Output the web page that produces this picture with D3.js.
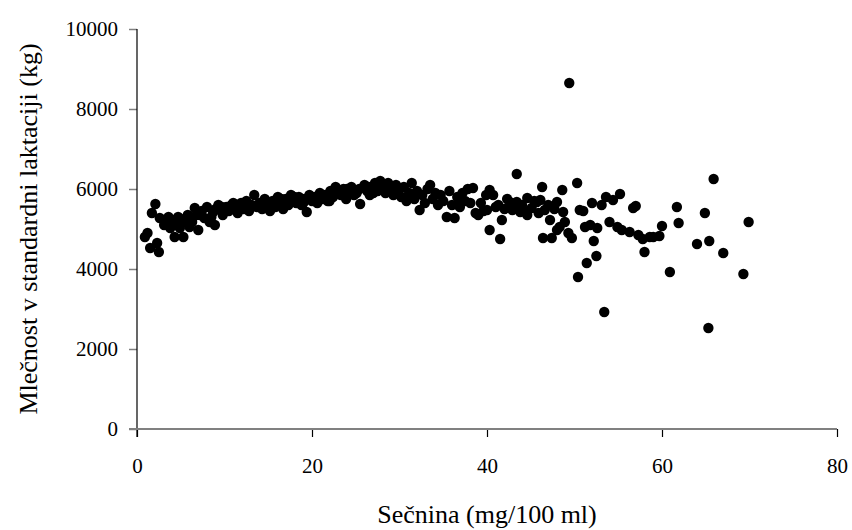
<!DOCTYPE html>
<html><head><meta charset="utf-8">
<script src="https://cdn.jsdelivr.net/npm/d3@7"></script>
<style>body{margin:0;background:#fff}svg text{font-family:"Liberation Serif","Times New Roman",serif !important;fill:#000}</style>
</head><body><svg id="c" width="852" height="530"></svg>
<script>
const xTicks = [0, 20, 40, 60, 80];
const yTicks = [0, 2000, 4000, 6000, 8000, 10000];
const xTitle = "Sečnina (mg/100 ml)";
const yTitle = "Mlečnost v standardni laktaciji (kg)";
const secnina = [0.9,1.2,1.5,1.7,2.1,2.3,2.5,2.6,3.1,3.4,3.6,3.8,4.1,4.3,4.5,4.7,4.9,5.0,5.3,5.5,5.8,6.0,6.3,6.6,6.8,7.0,7.2,7.4,7.7,8.0,8.3,8.5,8.7,8.9,9.0,9.3,9.5,9.7,9.8,
10.0,10.2,10.5,10.8,11.0,11.2,11.5,11.9,12.0,12.2,12.5,12.8,13.0,13.1,13.4,13.7,14.0,14.3,14.5,14.6,14.9,15.2,15.5,15.6,15.8,16.1,16.4,16.5,16.7,17.0,17.3,17.5,17.6,17.9,18.0,18.2,18.5,18.8,19.0,19.1,19.4,19.7,19.8,20.0,
20.3,20.6,20.9,21.0,21.2,21.5,21.8,22.0,22.1,22.4,22.7,23.0,23.3,23.5,23.6,23.9,24.0,24.2,24.5,24.8,25.0,25.1,25.4,25.5,26.0,26.3,26.5,26.6,26.9,27.0,27.2,27.5,27.8,28.0,28.1,28.4,28.7,29.0,29.3,29.5,29.6,29.9,
30.2,30.5,30.8,31.1,31.4,31.7,32.0,32.3,32.6,32.9,33.2,33.5,33.8,34.1,34.4,34.7,35.0,35.4,35.7,36.0,36.3,36.6,36.7,36.9,37.2,37.5,37.8,38.1,38.4,38.7,39.0,39.3,39.6,39.9,40.0,
40.3,40.3,40.7,41.0,41.3,41.5,41.7,42.0,42.3,42.6,42.9,43.0,43.4,43.4,43.8,44.0,44.3,44.6,44.6,45.1,45.4,45.7,45.9,46.1,46.3,46.4,46.6,47.0,47.2,47.4,47.7,48.0,48.0,48.3,48.6,48.7,48.9,49.3,49.4,49.7,
50.3,50.4,50.6,51.0,51.2,51.4,51.8,52.0,52.2,52.5,52.6,53.1,53.4,53.6,54.0,54.4,54.9,55.2,55.4,56.3,56.7,57.0,57.3,57.8,58.0,58.6,59.0,59.7,60.0,60.9,61.7,61.9,64.0,64.9,65.3,65.4,65.9,67.0,69.3,69.9];
const mlecnost = [4800,4900,4525,5400,5625,4650,4425,5275,5100,5175,5300,5025,5225,4800,5100,5300,5025,5250,4800,5175,5350,5050,5175,5525,5350,4975,5350,5450,5275,5550,5175,5300,5425,5100,5500,5600,5475,5550,5350,
5450,5550,5450,5600,5650,5500,5400,5650,5600,5500,5700,5450,5550,5600,5850,5550,5650,5500,5700,5750,5600,5450,5700,5600,5550,5800,5650,5750,5500,5750,5600,5700,5850,5700,5800,5650,5800,5600,5650,5750,5425,5850,5750,5700,
5800,5650,5900,5800,5750,5850,5700,5700,5950,5800,6050,5900,5850,5900,6000,5750,6000,5950,6050,5850,5950,5900,6000,5625,6100,5950,6050,5850,6000,5900,6150,5950,6200,6100,6050,5900,6150,6000,5850,5900,6100,5950,
5800,6050,5700,5900,6150,5750,5950,5475,5850,5650,6000,6100,5750,5900,5600,5850,5700,5300,5950,5600,5275,5800,5600,5550,5900,5700,6000,5650,6025,5400,5350,5650,5450,5850,5475,
5975,4975,5850,5550,5600,4750,5225,5500,5750,5675,5475,5550,5675,6375,5425,5600,5450,5775,5350,5525,5700,5675,5400,5725,6050,4775,5475,5600,5225,4775,5500,5675,4975,5050,5975,5425,5175,4900,8650,4775,
6150,3800,5475,5450,5050,4150,5100,5650,4700,4325,5025,5600,2925,5800,5175,5725,5050,5875,4975,4925,5525,5575,4850,4750,4425,4800,4800,4825,5075,3925,5550,5150,4625,5400,2525,4700,6250,4400,3875,5175];

const svg = d3.select("#c");
const x = d3.scaleLinear().domain([0, 80]).range([137, 837]);
const y = d3.scaleLinear().domain([0, 10000]).range([429, 29]);
const serif = '"Liberation Serif","Times New Roman",serif';

// y axis
const ya = svg.append("g").attr("transform", "translate(137,0)")
  .call(d3.axisLeft(y).tickValues(yTicks).tickFormat(d3.format("d")).tickSize(8).tickPadding(11));
ya.attr("font-family", serif).attr("font-size", 21);
ya.select(".domain").remove();
ya.selectAll(".tick line").attr("stroke", "#808080").attr("stroke-width", 1.5);
ya.selectAll(".tick text").style("font-family", serif).style("font-size", "21px");
svg.append("line").attr("x1", 137).attr("x2", 137).attr("y1", y(10000)).attr("y2", y(0) + 8)
  .attr("stroke", "#000").attr("stroke-width", 1.2);

// x axis
const xa = svg.append("g").attr("transform", "translate(0,429)")
  .call(d3.axisBottom(x).tickValues(xTicks).tickFormat(d3.format("d")).tickSize(8).tickPadding(21));
xa.attr("font-family", serif).attr("font-size", 21);
xa.select(".domain").remove();
xa.selectAll(".tick line").attr("stroke", "#000").attr("stroke-width", 1.2);
xa.selectAll(".tick text").style("font-family", serif).style("font-size", "21px");
svg.append("line").attr("x1", 129).attr("x2", x(80)).attr("y1", 429).attr("y2", 429)
  .attr("stroke", "#808080").attr("stroke-width", 2);

// points
svg.append("g").selectAll("circle").data(secnina.map((v, i) => [v, mlecnost[i]])).join("circle")
  .attr("cx", d => x(d[0])).attr("cy", d => y(d[1])).attr("r", 5.2).attr("fill", "#000");

// titles
svg.append("text").attr("x", (x(0) + x(80)) / 2).attr("y", 523).attr("text-anchor", "middle")
  .style("font-family", serif).style("font-size", "26px").text(xTitle);
svg.append("text").attr("transform", "translate(37," + ((y(0) + y(10000)) / 2) + ") rotate(-90)")
  .attr("text-anchor", "middle").style("font-family", serif).style("font-size", "26px").text(yTitle);
</script></body></html>
